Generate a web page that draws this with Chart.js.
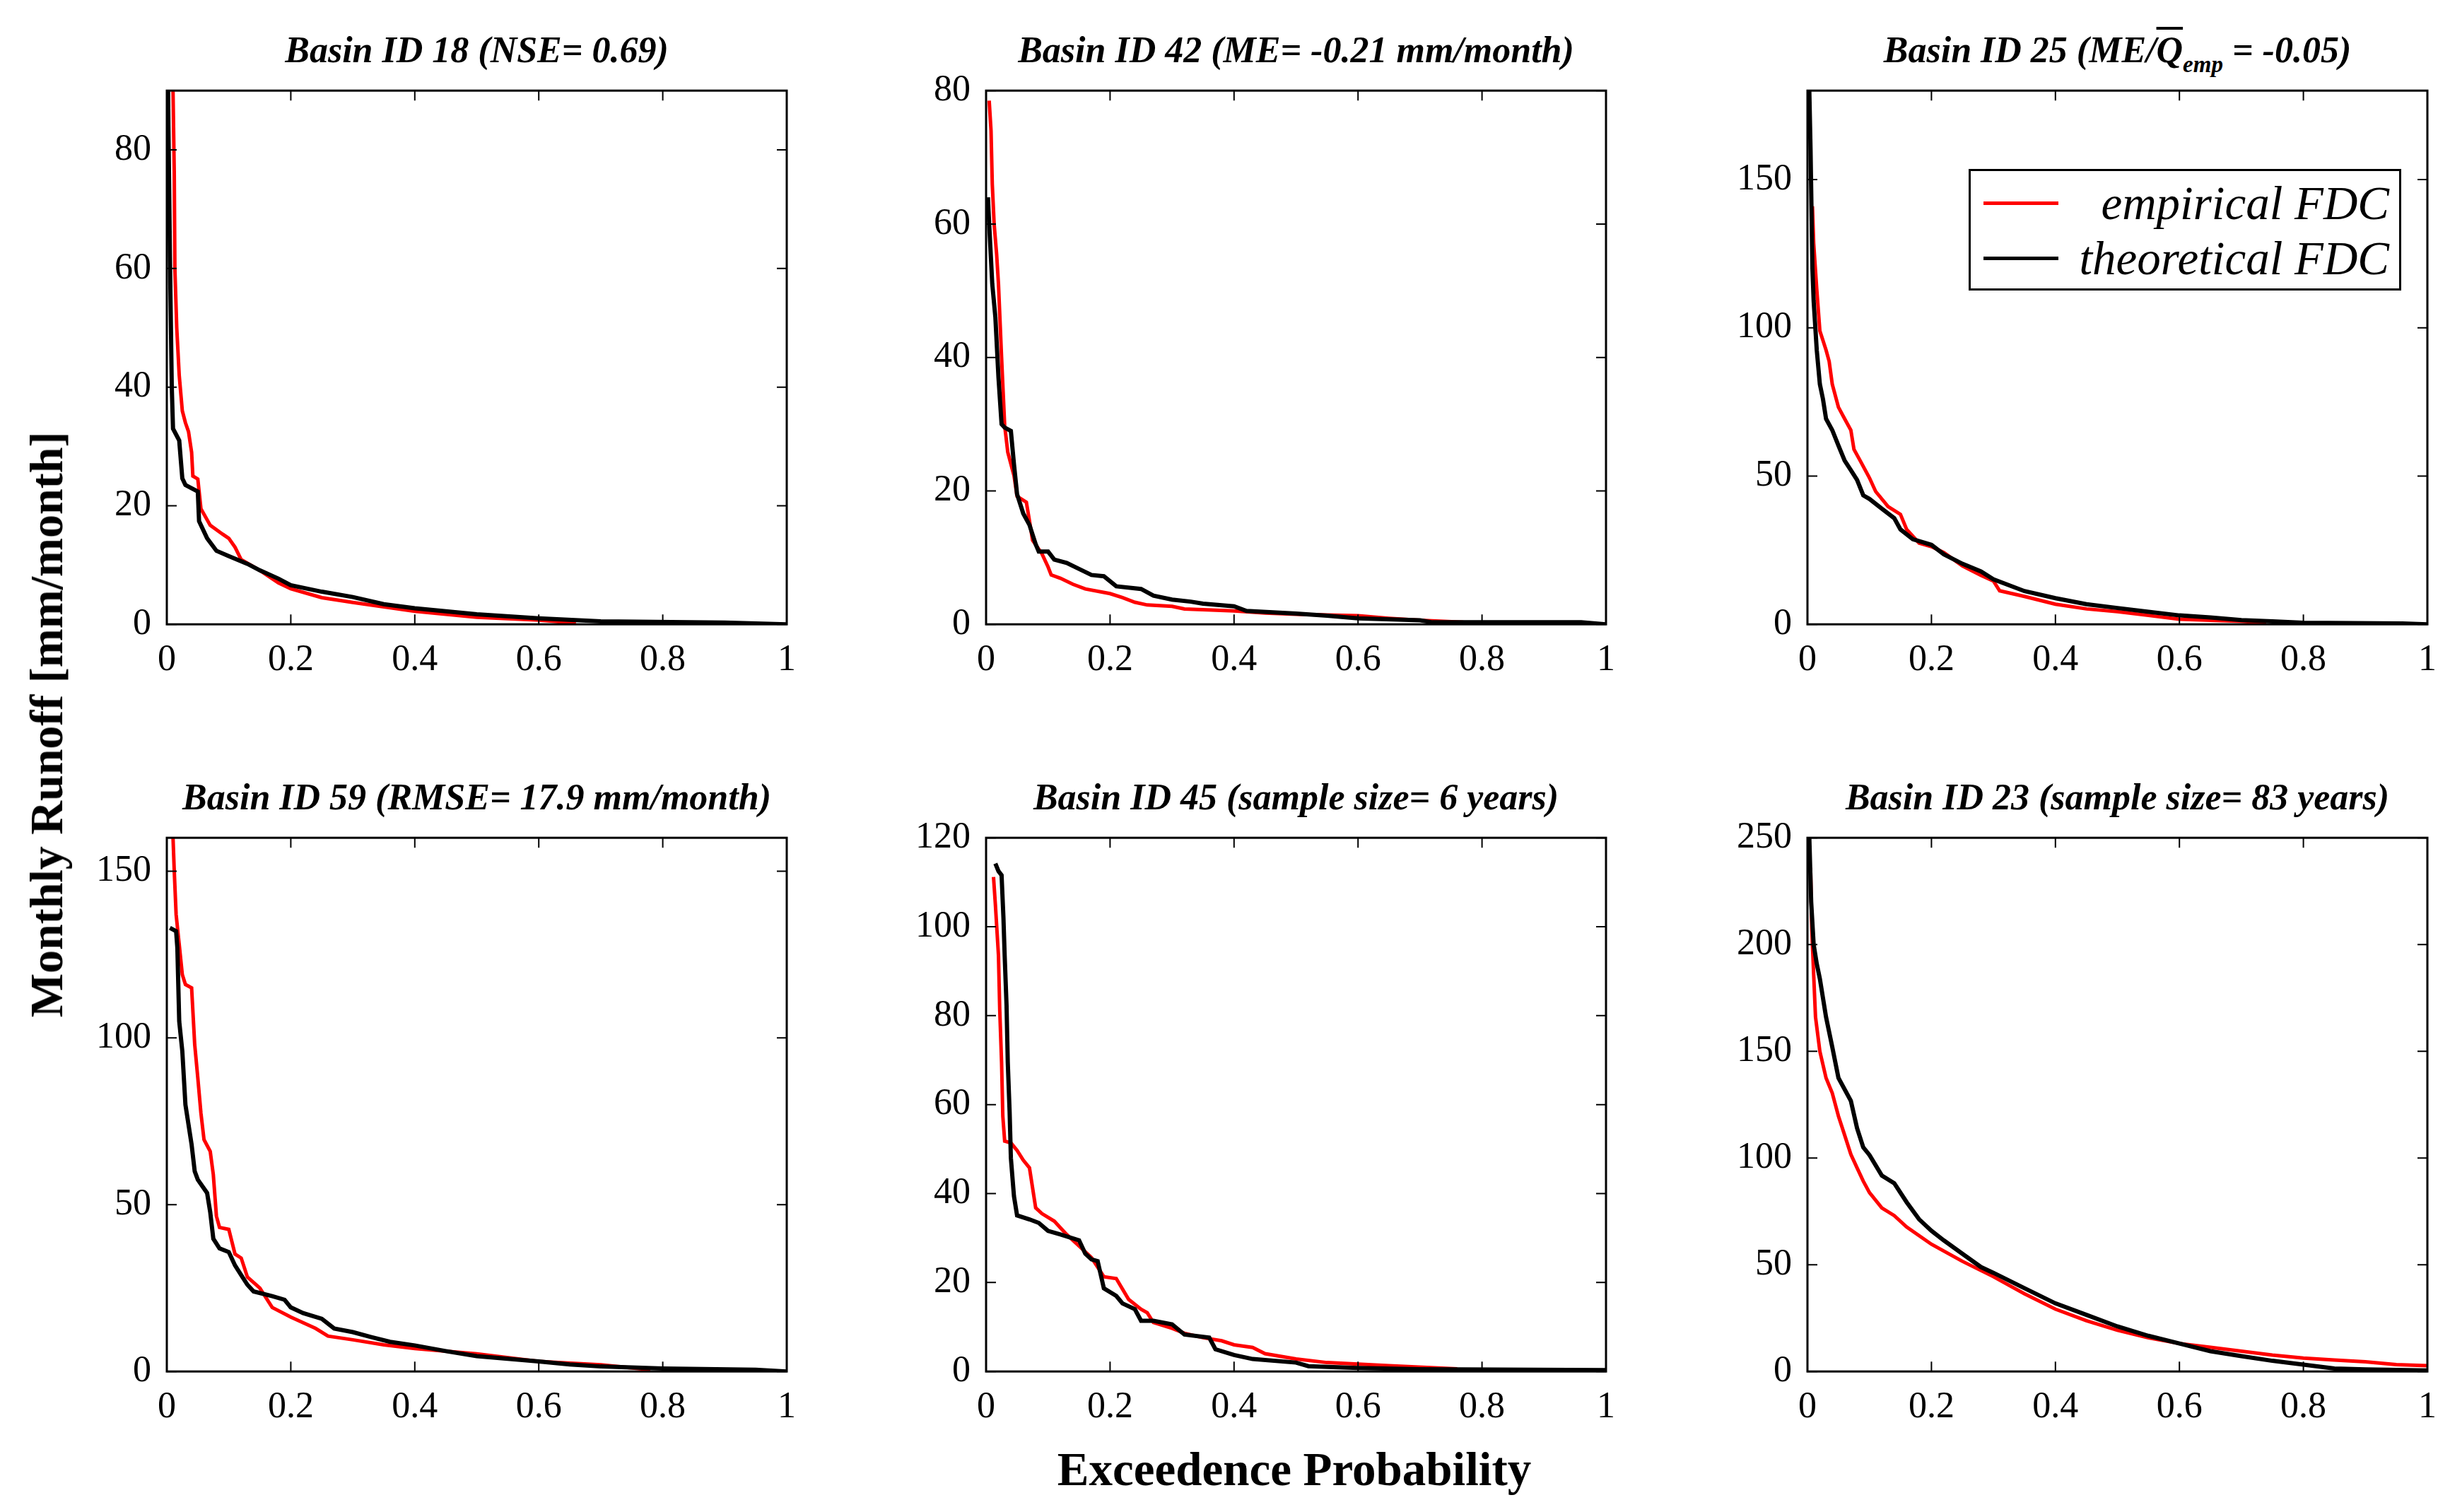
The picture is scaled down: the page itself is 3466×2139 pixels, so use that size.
<!DOCTYPE html>
<html>
<head>
<meta charset="utf-8">
<script src="https://cdn.jsdelivr.net/npm/chart.js@4.4.0/dist/chart.umd.min.js"></script>
<style>
  html, body { margin: 0; padding: 0; background: #fff; }
  body { width: 3466px; height: 2139px; position: relative; overflow: hidden;
         font-family: "Liberation Serif", "Times New Roman", serif; color: #000; }
  .panel { position: absolute; }
  .ttl { position: absolute; text-align: center; font-weight: bold; font-style: italic;
         font-size: 52px; line-height: 52px; white-space: nowrap; }
  .ttl sub { font-size: 33px; vertical-align: -14px; line-height: 0; }
  .ovl { text-decoration: overline; text-decoration-thickness: 4px; }
  .axt { position: absolute; font-weight: bold; white-space: nowrap;
         transform: translate(-50%, -50%); }
  #legend { position: absolute; left: 2785px; top: 239px; width: 606px; height: 166px;
            border: 3px solid #000; background: #fff; }
  #legend .row { position: absolute; left: 0; right: 0; height: 70px; }
  #legend .smp { position: absolute; left: 18px; width: 106px; height: 5px; top: 33px; }
  #legend .lab { position: absolute; right: 14px; top: 0; font-style: italic; font-size: 67px;
                 line-height: 70px; white-space: nowrap; }
</style>
</head>
<body>

<script>
// exceedence probability (x) and monthly runoff (y)
// Basin 18
const p18Emp = [0.01,0.012,0.013,0.016,0.02,0.025,0.03,0.035,0.04,0.042,0.05,0.055,0.07,0.09,0.1,0.11,0.12,0.15,0.18,0.2,0.25,0.3,0.4,0.5,0.6,0.66];
const q18Emp = [90,76,60,50,42,36,34,32.5,29,25,24.5,19.5,16.7,15.2,14.5,13,10.9,9.1,7,6,4.5,3.7,2.2,1.2,0.7,0.2];
const p18Th  = [0.002,0.005,0.008,0.01,0.02,0.025,0.03,0.05,0.052,0.065,0.08,0.1,0.13,0.15,0.18,0.2,0.25,0.3,0.35,0.4,0.5,0.6,0.7,0.9,1];
const q18Th  = [90,62,40,33,31,24.6,23.5,22.4,17.4,14.5,12.4,11.5,10.2,9.1,7.7,6.6,5.5,4.6,3.4,2.7,1.7,1.0,0.5,0.3,0];
// Basin 42
const p42Emp = [0.005,0.008,0.01,0.013,0.017,0.02,0.025,0.03,0.035,0.045,0.05,0.065,0.07,0.075,0.09,0.1,0.105,0.12,0.14,0.16,0.2,0.22,0.24,0.26,0.3,0.32,0.4,0.45,0.5,0.6,0.65,0.7,0.77];
const q42Emp = [78.5,74,66,60,55.5,51,40,29.8,25.8,22.3,19.2,18.3,15.5,12.6,10.6,8.6,7.4,6.9,6,5.3,4.6,4,3.3,2.9,2.7,2.3,2,1.7,1.5,1.3,0.9,0.6,0.3];
const p42Th  = [0.003,0.005,0.01,0.015,0.02,0.025,0.03,0.04,0.045,0.05,0.06,0.07,0.08,0.085,0.1,0.11,0.13,0.15,0.17,0.19,0.21,0.25,0.27,0.3,0.33,0.35,0.4,0.42,0.5,0.55,0.6,0.7,0.72,0.96,1];
const q42Th  = [64,60,51,46,37,30,29.5,29,24,19.5,16.6,14.9,12,10.9,10.9,9.7,9.2,8.3,7.4,7.2,5.7,5.3,4.3,3.7,3.4,3.1,2.7,2,1.6,1.3,0.9,0.6,0.3,0.3,0];
// Basin 25
const p25Emp = [0.008,0.01,0.015,0.02,0.03,0.035,0.04,0.05,0.06,0.07,0.075,0.085,0.1,0.11,0.13,0.15,0.16,0.18,0.2,0.22,0.25,0.28,0.3,0.31,0.35,0.4,0.45,0.5,0.55,0.6,0.7,0.74];
const q25Emp = [141,128.6,113,99,92.5,88.7,81,73.2,69.3,65.5,59,55.2,49.4,44.8,39.7,37.1,32,27.4,26.2,24.2,19.7,16.5,14.6,11.3,9.4,6.8,5.2,4.3,3,1.7,1,0.5];
const p25Th  = [0.003,0.005,0.008,0.01,0.015,0.02,0.025,0.03,0.04,0.05,0.06,0.07,0.08,0.09,0.1,0.12,0.14,0.15,0.17,0.2,0.22,0.25,0.28,0.3,0.35,0.4,0.45,0.5,0.55,0.6,0.65,0.7,0.75,0.8,0.96,1];
const q25Th  = [180,160,120,109,92.5,81,76,69.3,65.5,60.3,55.2,52,48.7,43.5,42.3,39,35.8,32,28.7,26.8,23.6,20.4,17.8,15.2,11.2,8.8,6.8,5.5,4.2,3,2.3,1.4,1,0.5,0.3,0];
// Basin 59
const p59Emp = [0.01,0.012,0.015,0.02,0.025,0.03,0.04,0.045,0.05,0.055,0.06,0.07,0.075,0.08,0.085,0.1,0.11,0.12,0.13,0.15,0.17,0.2,0.22,0.24,0.26,0.3,0.35,0.4,0.45,0.5,0.6,0.7,0.78];
const q59Emp = [160,150,137,128,119,116,115,98,88,77.5,69.5,66,59,46.6,43.2,42.6,35.2,34,28.3,25,19.2,16.3,14.6,12.9,10.6,9.5,8,6.9,6.1,5.3,3,2,0.5];
const p59Th  = [0.005,0.015,0.017,0.02,0.025,0.03,0.035,0.04,0.045,0.05,0.065,0.07,0.075,0.085,0.1,0.11,0.12,0.13,0.14,0.17,0.19,0.2,0.22,0.25,0.27,0.3,0.33,0.36,0.4,0.45,0.5,0.55,0.6,0.65,0.7,0.8,0.95,1];
const q59Th  = [133,132,127,105,96,80,74,68,60,57.5,53.5,47.8,39.8,36.9,35.8,31.8,28.9,26,24,22.6,21.5,19.2,17.5,15.8,12.9,11.8,10.3,8.9,7.8,6.1,4.6,3.8,3,2.1,1.5,0.9,0.5,0];
// Basin 45
const p45Emp = [0.012,0.015,0.02,0.022,0.025,0.027,0.03,0.04,0.05,0.06,0.07,0.08,0.09,0.11,0.13,0.15,0.17,0.19,0.21,0.23,0.25,0.26,0.27,0.3,0.32,0.35,0.38,0.4,0.43,0.45,0.5,0.55,0.65,0.76];
const q45Emp = [111.2,105,93.5,81.5,69.5,57.4,51.8,51.4,49.7,47.5,45.8,36.8,35.5,33.8,30.8,28.2,25.6,21.3,20.9,16.2,14,13.2,11,9.7,8.6,7.6,6.9,6,5.4,4,2.8,2,1.3,0.6];
const p45Th  = [0.015,0.02,0.025,0.028,0.03,0.033,0.035,0.038,0.04,0.045,0.05,0.07,0.085,0.1,0.12,0.15,0.16,0.17,0.18,0.19,0.21,0.22,0.24,0.25,0.27,0.3,0.32,0.36,0.37,0.4,0.43,0.5,0.52,0.6,0.7,1];
const q45Th  = [114.2,112.5,111.6,102,93.5,82.4,69.5,58.3,48,39.4,35.1,34.2,33.4,31.6,30.8,29.5,26.5,25.2,24.8,18.7,17,15.3,14,11.4,11.4,10.6,8.3,7.6,5,3.7,2.8,2,1.2,0.8,0.5,0.3];
// Basin 23
const p23Emp = [0.005,0.007,0.01,0.013,0.02,0.03,0.04,0.05,0.06,0.07,0.08,0.09,0.1,0.12,0.14,0.16,0.2,0.25,0.3,0.35,0.4,0.45,0.5,0.55,0.6,0.65,0.7,0.75,0.8,0.85,0.9,0.95,1];
const q23Emp = [236,207,186,166,150,137.5,130.4,119.6,110.7,101.7,95.4,89.2,83.8,76.6,73,67.7,59.6,51.6,44.4,36.4,29.2,23.8,19.3,15.8,13.1,11.3,9.5,7.7,6.3,5.4,4.5,3.2,2.7];
const p23Th  = [0.003,0.006,0.01,0.015,0.02,0.03,0.04,0.05,0.07,0.08,0.09,0.1,0.12,0.14,0.16,0.18,0.2,0.22,0.25,0.28,0.3,0.35,0.4,0.45,0.5,0.55,0.6,0.65,0.7,0.75,0.8,0.85,0.9,1];
const q23Th  = [250,220,200,191,184,166,152,137.5,126.8,114,105,101.4,91.8,88.2,79.3,71.3,65.9,61.4,55.1,48.9,46.2,39,31.9,26.5,21.1,16.7,13.1,9.5,7.2,5,3.2,1.4,1,0.5];

// y-axis upper limits and tick steps
const yMaxes = [90, 80, 180, 160, 120, 250];
const ySteps = [20, 20, 50, 50, 20, 50];
const xTickStep = 0.2;

const titles = [
  'Basin ID 18 (NSE= 0.69)',
  'Basin ID 42 (ME= -0.21 mm/month)',
  'Basin ID 25 (ME/<span class="ovl">Q</span><sub>emp</sub> = -0.05)',
  'Basin ID 59 (RMSE= 17.9 mm/month)',
  'Basin ID 45 (sample size= 6 years)',
  'Basin ID 23 (sample size= 83 years)'
];

const series = [
  [p18Emp, q18Emp, p18Th, q18Th],
  [p42Emp, q42Emp, p42Th, q42Th],
  [p25Emp, q25Emp, p25Th, q25Th],
  [p59Emp, q59Emp, p59Th, q59Th],
  [p45Emp, q45Emp, p45Th, q45Th],
  [p23Emp, q23Emp, p23Th, q23Th]
];

// plot boxes on the page
const colLeft = [236, 1395, 2557];
const rowTop = [128, 1185];
const boxW = 877, boxH = 755;
const yAxisW = 150, xAxisH = 100;

// MATLAB-style box with inward ticks on all sides
const boxTicks = {
  id: 'boxTicks',
  afterDraw(chart) {
    const ctx = chart.ctx, a = chart.chartArea;
    const xs = chart.scales.x, ys = chart.scales.y;
    const tl = 14;
    ctx.save();
    ctx.strokeStyle = '#000';
    ctx.lineWidth = 2;
    ctx.beginPath();
    xs.ticks.forEach(t => {
      const px = xs.getPixelForValue(t.value);
      ctx.moveTo(px, a.bottom); ctx.lineTo(px, a.bottom - tl);
      ctx.moveTo(px, a.top); ctx.lineTo(px, a.top + tl);
    });
    ys.ticks.forEach(t => {
      const py = ys.getPixelForValue(t.value);
      ctx.moveTo(a.left, py); ctx.lineTo(a.left + tl, py);
      ctx.moveTo(a.right, py); ctx.lineTo(a.right - tl, py);
    });
    ctx.stroke();
    ctx.lineWidth = 3;
    ctx.strokeRect(a.left, a.top, a.right - a.left, a.bottom - a.top);
    ctx.restore();
  }
};

const tickFont = { family: '"Liberation Serif", "Times New Roman", serif', size: 52 };
const fmt = v => String(Number(Number(v).toFixed(1)));

function pts(xs, ys) {
  return xs.map((x, i) => ({ x: x, y: ys[i] }));
}

series.forEach((s, i) => {
  const left = colLeft[i % 3], top = rowTop[Math.floor(i / 3)];

  const ttl = document.createElement('div');
  ttl.className = 'ttl';
  ttl.style.left = left + 'px';
  ttl.style.width = boxW + 'px';
  ttl.style.top = (top - 83) + 'px';
  ttl.innerHTML = titles[i];
  document.body.appendChild(ttl);

  const wrap = document.createElement('div');
  wrap.className = 'panel';
  wrap.style.left = (left - yAxisW) + 'px';
  wrap.style.top = (top - 40) + 'px';
  wrap.style.width = (yAxisW + boxW + 40) + 'px';
  wrap.style.height = (40 + boxH + xAxisH) + 'px';
  const cv = document.createElement('canvas');
  wrap.appendChild(cv);
  document.body.appendChild(wrap);

  const chart = new Chart(cv, {
    type: 'scatter',
    data: {
      datasets: [{
        label: 'theoretical FDC',
        data: pts(s[2], s[3]),
        showLine: true,
        borderColor: '#000000',
        borderWidth: 6,
        pointRadius: 0,
        clip: 0
      }, {
        label: 'empirical FDC',
        data: pts(s[0], s[1]),
        showLine: true,
        borderColor: '#ff0000',
        borderWidth: 5,
        pointRadius: 0,
        clip: 0
      }]
    },
    options: {
      responsive: true,
      maintainAspectRatio: false,
      devicePixelRatio: 1,
      animation: false,
      events: [],
      layout: { padding: 0 },
      plugins: { legend: { display: false }, tooltip: { enabled: false } },
      scales: {
        x: {
          type: 'linear', min: 0, max: 1,
          grid: { display: false }, border: { display: false },
          ticks: { stepSize: xTickStep, color: '#000', font: tickFont, padding: 12, maxRotation: 0, callback: fmt },
          afterFit: sc => { sc.height = xAxisH; }
        },
        y: {
          type: 'linear', min: 0, max: yMaxes[i],
          grid: { display: false }, border: { display: false },
          ticks: { stepSize: ySteps[i], includeBounds: false, color: '#000', font: tickFont, padding: 14, callback: fmt },
          afterFit: sc => { sc.width = yAxisW; }
        }
      }
    },
    plugins: [boxTicks]
  });

  // fit the canvas so that the plot box lands on its place in the figure
  const a = chart.chartArea;
  const extraW = chart.width - (a.right - a.left);
  const extraH = chart.height - (a.bottom - a.top);
  wrap.style.left = (left - a.left) + 'px';
  wrap.style.top = (top - a.top) + 'px';
  wrap.style.width = (boxW + extraW) + 'px';
  wrap.style.height = (boxH + extraH) + 'px';
  chart.resize();
});
</script>

<div id="legend">
  <div class="row" style="top:10px"><div class="smp" style="background:#ff0000"></div><div class="lab">empirical FDC</div></div>
  <div class="row" style="top:88px"><div class="smp" style="background:#000"></div><div class="lab">theoretical FDC</div></div>
</div>

<div class="axt" style="left:66px; top:1025px; font-size:66px; transform: translate(-50%, -50%) rotate(-90deg);">Monthly Runoff [mm/month]</div>
<div class="axt" style="left:1831px; top:2078px; font-size:67px;">Exceedence Probability</div>

</body>
</html>
